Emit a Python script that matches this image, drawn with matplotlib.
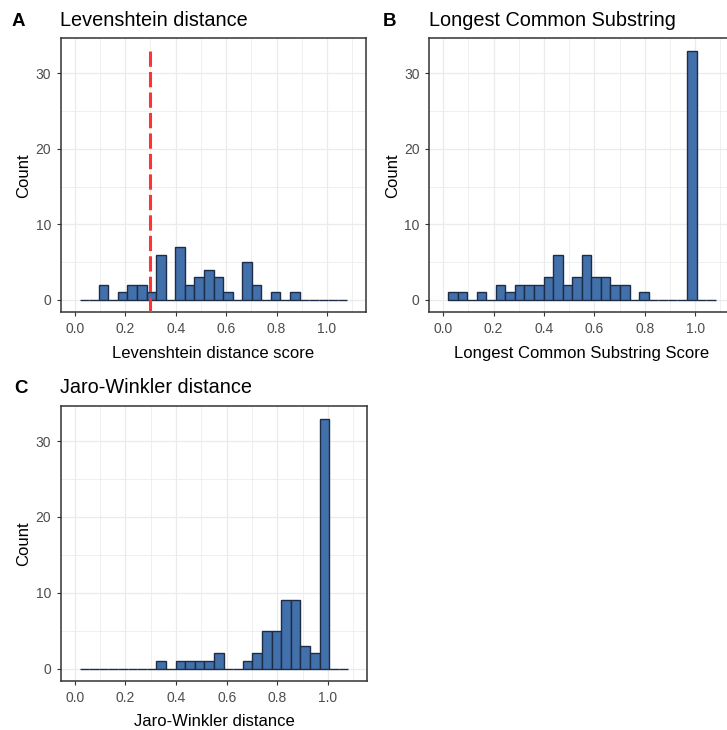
import matplotlib.pyplot as plt
import numpy as np

plt.rcParams['font.family'] = ['Liberation Sans', 'DejaVu Sans']

# histogram bins: 28 bins of width 1.1/29 (ggplot bins=30 on limits 0..1.1)
bin_width = 1.1 / 29
bin_centers = np.arange(1, 29) * bin_width

lev_counts = [0, 0, 2, 0, 1, 2, 2, 1, 6, 0, 7, 2, 3, 4, 3, 1, 0, 5, 2, 0, 1, 0, 1, 0, 0, 0, 0, 0]
lcs_counts = [1, 1, 0, 1, 0, 2, 1, 2, 2, 2, 3, 6, 2, 3, 6, 3, 3, 2, 2, 0, 1, 0, 0, 0, 0, 33, 0, 0]
jw_counts = [0, 0, 0, 0, 0, 0, 0, 0, 1, 0, 1, 1, 1, 1, 2, 0, 0, 1, 2, 5, 5, 9, 9, 3, 2, 33, 0, 0]

lev_threshold = 0.3

x_ticks = [0.0, 0.2, 0.4, 0.6, 0.8, 1.0]
x_minor = [0.1, 0.3, 0.5, 0.7, 0.9, 1.1]
y_ticks = [0, 10, 20, 30]
y_minor = [5, 15, 25]

fill = '#4270AB'
edge = '#1E2D47'
grid = '#EBEBEB'
frame = '#333333'
YMIN, YMAX = -1.65, 34.65


def hist_panel(ax, counts, xlabel):
    ax.set_xlim(-0.055, 1.155)
    ax.set_ylim(YMIN, YMAX)
    ax.set_xticks(x_ticks)
    ax.set_xticks(x_minor, minor=True)
    ax.set_yticks(y_ticks)
    ax.set_yticks(y_minor, minor=True)
    ax.set_xticklabels([f"{t:.1f}" for t in x_ticks])
    ax.grid(True, which='major', color=grid, lw=0.9, zorder=0)
    ax.grid(True, which='minor', color=grid, lw=0.55, zorder=0)
    ax.set_axisbelow(True)
    ax.bar(bin_centers, counts, width=bin_width, color=fill, edgecolor=edge,
           linewidth=1.0, zorder=2)
    for s in ax.spines.values():
        s.set_color(frame)
        s.set_linewidth(1.1)
    ax.tick_params(which='major', length=3, width=0.8, color=frame,
                   labelcolor='#4D4D4D', labelsize=10, pad=4)
    ax.tick_params(which='minor', length=0)
    ax.set_xlabel(xlabel, fontsize=12, labelpad=7)
    ax.set_ylabel("Count", fontsize=12, labelpad=3)


fig = plt.figure(figsize=(7.27, 7.30), dpi=100)
W, H = 727, 730


def px_axes(left, top, right, bottom):
    return fig.add_axes([left / W, 1 - bottom / H, (right - left) / W, (bottom - top) / H])


ax_a = px_axes(61, 38.3, 366, 312.3)
ax_b = px_axes(429.3, 38.3, 734.3, 312.3)
ax_c = px_axes(61, 406, 367, 681)

hist_panel(ax_a, lev_counts, "Levenshtein distance score")
ax_a.vlines(lev_threshold, YMIN, 33, colors='#FF3333', linewidth=2.2,
            linestyles=(0, (5, 1.7)), zorder=3)
hist_panel(ax_b, lcs_counts, "Longest Common Substring Score")
hist_panel(ax_c, jw_counts, "Jaro-Winkler distance")

# panel letters and titles
for letter, lx, tx, ty, title in [("A", 12, 60, 26, "Levenshtein distance"),
                                  ("B", 383, 429, 26, "Longest Common Substring"),
                                  ("C", 14, 60, 393, "Jaro-Winkler distance")]:
    fig.text(lx / W, 1 - ty / H, letter, fontsize=13.5, fontweight='bold', va='baseline')
    fig.text(tx / W, 1 - ty / H, title, fontsize=14.3, va='baseline')

fig.savefig("out.png", dpi=100)
